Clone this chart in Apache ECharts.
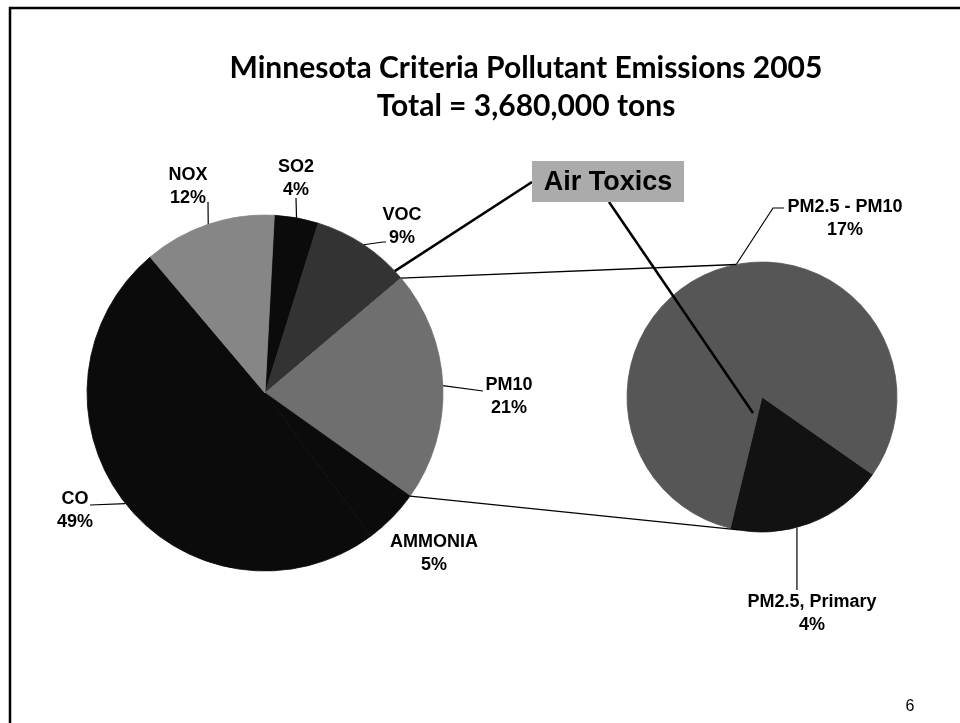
<!DOCTYPE html>
<html>
<head>
<meta charset="utf-8">
<script src="https://cdn.jsdelivr.net/npm/echarts@6/dist/echarts.min.js"></script>
<style>
  html, body { margin: 0; padding: 0; background: #fff; }
  #main { width: 960px; height: 723px; }
</style>
</head>
<body>
<div id="main"></div>
<script>
// data (percent of total emissions)
var mainNames = ['SO2', 'VOC', 'PM10', 'AMMONIA', 'CO', 'NOX'];
var mainShares = [4, 9, 21, 5, 49, 12];
var pmNames = ['PM2.5, Primary', 'PM2.5 - PM10'];
var pmShares = [4, 17];

var mainColors = ['#0b0b0b', '#333333', '#6f6f6f', '#0b0b0b', '#0b0b0b', '#868686'];
var pmColors = ['#121212', '#565656'];

// pie geometry
var L = { cx: 265, cy: 393, r: 178, start: 87 };
var R = { cx: 762, cy: 397, r: 135, start: -35 };

// point on a circle, angle measured clockwise from north (degrees)
function polar(p, deg, rr) {
  var a = deg * Math.PI / 180;
  var rad = rr == null ? p.r : rr;
  return [p.cx + rad * Math.sin(a), p.cy - rad * Math.cos(a)];
}

var total = mainShares.reduce(function (s, v) { return s + v; }, 0);
var startCw = 90 - L.start;
var pmFrom = startCw;
for (var i = 0; i < 2; i++) pmFrom += mainShares[i] / total * 360;
var pmTo = pmFrom + mainShares[2] / total * 360;

// label spots (centre of the two-line block) and leader points after the pie edge
var mainLabelPos = {
  'SO2': { x: 296, y: 179, line: [[296, 198]] },
  'VOC': { x: 402, y: 227, line: [[383, 242], [386, 242]] },
  'PM10': { x: 509, y: 397, line: [[483, 391]] },
  'AMMONIA': { x: 434, y: 554, line: null },
  'CO': { x: 75, y: 511, line: [[90, 505]] },
  'NOX': { x: 188, y: 187, line: [[208, 202]] }
};
var pmLabelPos = {
  'PM2.5, Primary': { x: 812, y: 614, from: 165, line: [[792, 590]] },
  'PM2.5 - PM10': { x: 845, y: 219, from: 349, line: [[773, 208], [784, 208]] }
};

var labelFont = {
  fontFamily: 'Liberation Sans, Arial, sans-serif',
  fontWeight: 'bold',
  fontSize: 18,
  lineHeight: 23,
  color: '#000'
};

function layoutFor(table, seriesNames, geo) {
  return function (params) {
    var name = seriesNames[params.dataIndex];
    var s = table[name];
    var pts = params.labelLinePoints;
    var out = { x: s.x, y: s.y, align: 'center', verticalAlign: 'middle' };
    if (pts && pts.length) {
      var a = s.from != null ? polar(geo, s.from) : pts[0];
      if (s.line) {
        var rest = s.line.slice();
        if (s.from != null && rest.length === 1) rest[0] = [a[0], rest[0][1]];
        var all = [a].concat(rest);
        while (all.length < 3) all.push(all[all.length - 1]);
        out.labelLinePoints = all;
      } else {
        out.labelLinePoints = [a, a, a];
      }
    }
    return out;
  };
}

var upperA = polar(L, pmFrom);
var lowerA = polar(L, pmTo);
var upperB = polar(R, 349);
var lowerB = polar(R, 190);
var toxL = polar(L, pmFrom - 3);
var toxR = [R.cx - 9, R.cy + 16];

var box = { x: 532, y: 161, w: 152, h: 41 };

function sliceData(names, shares, colors) {
  return names.map(function (n, k) {
    return {
      name: n, value: shares[k],
      itemStyle: { color: colors[k], borderColor: colors[k], borderWidth: 0.8 }
    };
  });
}

var chart = echarts.init(document.getElementById('main'));
chart.setOption({
  backgroundColor: '#fff',
  animation: false,
  title: {
    text: 'Minnesota Criteria Pollutant Emissions 2005\nTotal = 3,680,000 tons',
    left: 521,
    top: 44,
    textAlign: 'center',
    textStyle: {
      fontFamily: 'Lato, Open Sans, sans-serif',
      fontWeight: 'bold',
      fontSize: 30,
      lineHeight: 38,
      color: '#000'
    }
  },
  series: [
    {
      name: 'Criteria pollutants',
      type: 'pie',
      center: [L.cx, L.cy],
      radius: L.r,
      startAngle: L.start,
      clockwise: true,
      avoidLabelOverlap: false,
      label: Object.assign({ show: true, position: 'outside', formatter: '{b}\n{c}%' }, labelFont),
      labelLine: { show: true, length: 10, length2: 10, lineStyle: { color: '#000', width: 1.2 } },
      labelLayout: layoutFor(mainLabelPos, mainNames, L),
      emphasis: { disabled: true },
      data: sliceData(mainNames, mainShares, mainColors)
    },
    {
      name: 'PM10 breakdown',
      type: 'pie',
      center: [R.cx, R.cy],
      radius: R.r,
      startAngle: R.start,
      clockwise: true,
      avoidLabelOverlap: false,
      label: Object.assign({ show: true, position: 'outside', formatter: '{b}\n{c}%' }, labelFont),
      labelLine: { show: true, length: 10, length2: 10, lineStyle: { color: '#000', width: 1.2 } },
      labelLayout: layoutFor(pmLabelPos, pmNames, R),
      emphasis: { disabled: true },
      data: sliceData(pmNames, pmShares, pmColors)
    }
  ],
  graphic: [
    // slide frame (only top and left edges show in the scan)
    { type: 'polyline', shape: { points: [[10, 723], [10, 8], [960, 8]] }, style: { fill: 'none', stroke: '#000', lineWidth: 2.5 }, z: 10 },
    // pie-of-pie connectors
    { type: 'line', shape: { x1: upperA[0], y1: upperA[1], x2: upperB[0], y2: upperB[1] }, style: { stroke: '#000', lineWidth: 1.3 }, z: 10 },
    { type: 'line', shape: { x1: lowerA[0], y1: lowerA[1], x2: lowerB[0], y2: lowerB[1] }, style: { stroke: '#000', lineWidth: 1.3 }, z: 10 },
    // Air Toxics callout
    { type: 'line', shape: { x1: box.x, y1: box.y + 21, x2: toxL[0], y2: toxL[1] }, style: { stroke: '#000', lineWidth: 2.5 }, z: 10 },
    { type: 'line', shape: { x1: box.x + 77, y1: box.y + box.h, x2: toxR[0], y2: toxR[1] }, style: { stroke: '#000', lineWidth: 2.5 }, z: 10 },
    { type: 'rect', shape: { x: box.x, y: box.y, width: box.w, height: box.h }, style: { fill: '#ababab', stroke: 'none' }, z: 11 },
    {
      type: 'text', x: box.x + box.w / 2, y: box.y + box.h / 2 + 1, z: 12,
      style: {
        text: 'Air Toxics', align: 'center', verticalAlign: 'middle',
        font: 'bold 27px "Liberation Sans", Arial, sans-serif', fill: '#000'
      }
    },
    // slide number
    { type: 'text', x: 910, y: 707, z: 12, style: { text: '6', align: 'center', verticalAlign: 'middle', font: '16px "Liberation Sans", Arial, sans-serif', fill: '#000' } }
  ]
});
</script>
</body>
</html>
